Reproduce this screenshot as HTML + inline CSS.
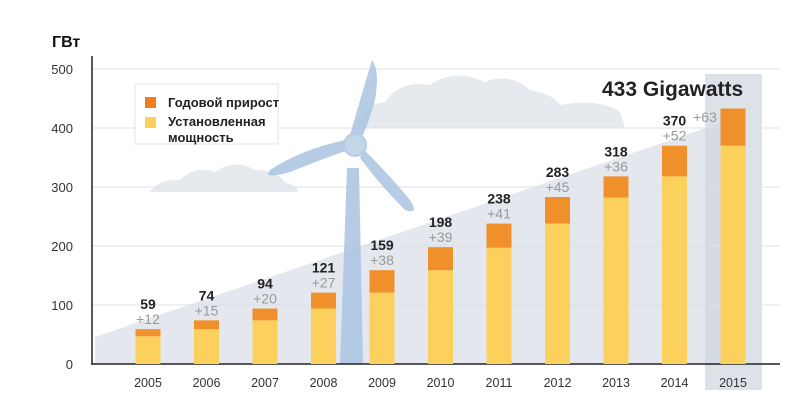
<!DOCTYPE html>
<html><head><meta charset="utf-8"><style>
html,body{margin:0;padding:0;background:#fff;}
svg{display:block;font-family:"Liberation Sans","DejaVu Sans",sans-serif;}
</style></head><body>
<svg width="800" height="400" viewBox="0 0 800 400">
<rect width="800" height="400" fill="#fff"/>
<path d="M150 192 Q160 178 180 180 Q195 165 215 172 Q235 158 255 170 Q275 170 285 182 Q298 186 298 192 Z" fill="#e6e9ee"/>
<path d="M355 128 Q360 105 385 102 Q400 80 430 85 Q455 68 485 82 Q510 72 530 90 Q555 95 560 105 Q600 98 620 112 L625 128 Z" fill="#e6e9ee"/>
<polygon points="95,337 735,118 735,364 95,364" fill="#e4e8ee"/>
<rect x="705" y="74" width="57" height="316" fill="#cfd6df" opacity="0.7"/>
<g stroke="#dde1e6" stroke-width="1">
<line x1="92" y1="69" x2="780" y2="69"/>
<line x1="92" y1="128" x2="780" y2="128"/>
<line x1="92" y1="187" x2="780" y2="187"/>
<line x1="92" y1="246" x2="780" y2="246"/>
<line x1="92" y1="305" x2="780" y2="305"/>
</g>
<g fill="#a9c4e0" opacity="0.85">
<path d="M347 168 L359 168 L363 364 L340 364 Z"/>
<path d="M350 135 Q360 100 372 60 Q380 70 375 100 Q368 125 362 137 Z"/>
<path d="M348 150 Q320 160 290 172 Q262 180 270 170 Q300 150 345 140 Z"/>
<path d="M364 150 Q385 170 410 200 Q420 215 405 210 Q380 185 360 158 Z"/>
<circle cx="355" cy="145" r="12"/>
</g>
<circle cx="355" cy="145" r="10" fill="#c4d6ea"/>
<rect x="135" y="84" width="143" height="60" fill="#fff" stroke="#e5e5e5"/>
<rect x="145" y="97" width="11" height="11" fill="#ef7f1a"/>
<rect x="145" y="117" width="11" height="11" fill="#fcd05c"/>
<g font-size="13" font-weight="bold" fill="#222">
<text x="168" y="107">Годовой прирост</text>
<text x="168" y="126">Установленная</text>
<text x="168" y="142">мощность</text>
</g>
<line x1="92" y1="56" x2="92" y2="365" stroke="#222" stroke-width="1.5"/>
<line x1="92" y1="364" x2="780" y2="364" stroke="#222" stroke-width="1.5"/>
<text x="52" y="47" font-size="16" font-weight="bold" fill="#111">ГВт</text>
<g font-size="13" fill="#333" text-anchor="end">
<text x="73" y="74">500</text><text x="73" y="133">400</text><text x="73" y="192">300</text>
<text x="73" y="251">200</text><text x="73" y="310">100</text><text x="73" y="369">0</text>
</g>
<text x="602" y="96" font-size="21" font-weight="bold" fill="#222">433 Gigawatts</text>
<g id="bars"></g>
</svg>
<script>
var d=[[59,12],[74,15],[94,20],[121,27],[159,38],[198,39],[238,41],[283,45],[318,36],[370,52],[433,63]];
var g=document.getElementById('bars'),h='';
d.forEach(function(v,i){
 var cx=148+58.5*i,y0=364,yt=364-0.59*v[0],ym=364-0.59*(v[0]-v[1]);
 h+='<rect x="'+(cx-12.5)+'" y="'+ym+'" width="25" height="'+(y0-ym)+'" fill="#fcd05c"/>';
 h+='<rect x="'+(cx-12.5)+'" y="'+yt+'" width="25" height="'+(ym-yt)+'" fill="#f0902a"/>';
 h+='<text x="'+cx+'" y="387" font-size="12.5" fill="#333" text-anchor="middle">'+(2005+i)+'</text>';
 if(i<10){
 h+='<text x="'+cx+'" y="'+(yt-5)+'" font-size="14" fill="#999" text-anchor="middle">+'+v[1]+'</text>';
 h+='<text x="'+cx+'" y="'+(yt-20)+'" font-size="14" font-weight="bold" fill="#222" text-anchor="middle">'+v[0]+'</text>';
 } else {
 h+='<text x="'+(cx-28)+'" y="122" font-size="14" fill="#999" text-anchor="middle">+'+v[1]+'</text>';
 }
});
g.innerHTML=h;
</script>
</body></html>
